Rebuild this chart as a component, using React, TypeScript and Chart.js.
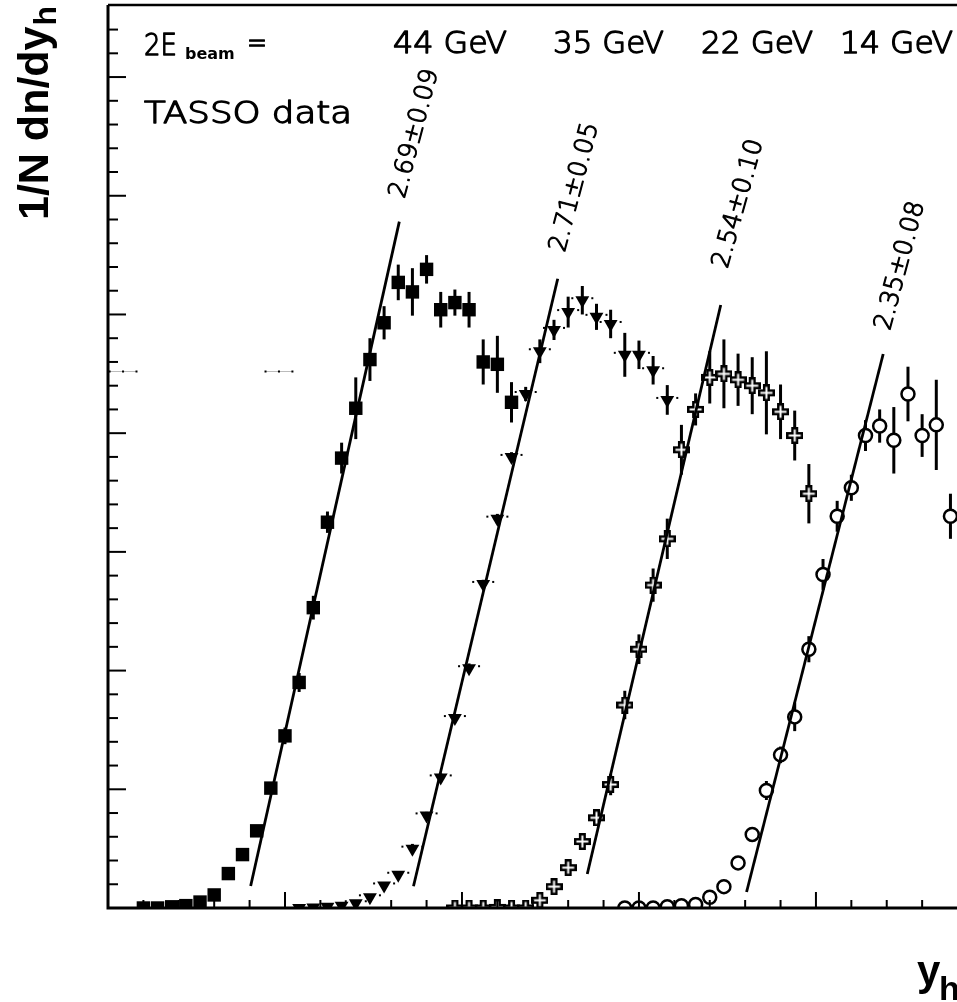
import React, { useEffect, useRef } from "react";
import { Chart, registerables } from "chart.js";

Chart.register(...registerables);

// ---------- data (x: rapidity-like axis units, y: 1/N dn/dy_h units) ----------
const x44 = [0.20, 0.28, 0.36, 0.44, 0.52, 0.60, 0.68, 0.76, 0.84, 0.92, 1.00, 1.08, 1.16, 1.24, 1.32, 1.40, 1.48, 1.56, 1.64, 1.72, 1.80, 1.88, 1.96, 2.04, 2.12, 2.20, 2.28];
const y44 = [0.00, 0.00, 0.01, 0.02, 0.05, 0.11, 0.29, 0.45, 0.65, 1.01, 1.45, 1.90, 2.53, 3.25, 3.79, 4.21, 4.62, 4.93, 5.27, 5.19, 5.38, 5.04, 5.10, 5.04, 4.60, 4.58, 4.26];
const e44 = [0.01, 0.01, 0.01, 0.01, 0.01, 0.02, 0.02, 0.03, 0.03, 0.05, 0.07, 0.08, 0.10, 0.09, 0.13, 0.26, 0.18, 0.14, 0.15, 0.20, 0.12, 0.15, 0.11, 0.15, 0.19, 0.24, 0.17];

const x35 = [1.08, 1.16, 1.24, 1.32, 1.40, 1.48, 1.56, 1.64, 1.72, 1.80, 1.88, 1.96, 2.04, 2.12, 2.20, 2.28, 2.36, 2.44, 2.52, 2.60, 2.68, 2.76, 2.84, 2.92, 3.00, 3.08, 3.16];
const y35 = [0.00, 0.004, 0.01, 0.02, 0.04, 0.09, 0.19, 0.28, 0.50, 0.78, 1.10, 1.60, 2.02, 2.73, 3.28, 3.80, 4.33, 4.69, 4.87, 5.02, 5.12, 4.98, 4.92, 4.66, 4.66, 4.53, 4.28];
const e35 = [0.01, 0.01, 0.01, 0.01, 0.01, 0.01, 0.02, 0.03, 0.04, 0.03, 0.035, 0.035, 0.04, 0.035, 0.04, 0.04, 0.06, 0.10, 0.085, 0.13, 0.12, 0.11, 0.12, 0.185, 0.12, 0.12, 0.125];

const x22 = [1.96, 2.04, 2.12, 2.20, 2.28, 2.36, 2.44, 2.52, 2.60, 2.68, 2.76, 2.84, 2.92, 3.00, 3.08, 3.16, 3.24, 3.32, 3.40, 3.48, 3.56, 3.64, 3.72, 3.80, 3.88, 3.96];
const y22 = [0.00, 0.00, 0.00, 0.005, 0.00, 0.00, 0.065, 0.18, 0.34, 0.56, 0.76, 1.04, 1.71, 2.18, 2.72, 3.11, 3.86, 4.20, 4.47, 4.50, 4.45, 4.40, 4.34, 4.18, 3.98, 3.49];
const e22 = [0.01, 0.01, 0.01, 0.01, 0.01, 0.01, 0.025, 0.03, 0.04, 0.045, 0.065, 0.09, 0.12, 0.125, 0.14, 0.17, 0.21, 0.135, 0.22, 0.29, 0.22, 0.24, 0.35, 0.23, 0.21, 0.25];

const x14 = [2.92, 3.00, 3.08, 3.16, 3.24, 3.32, 3.40, 3.48, 3.56, 3.64, 3.72, 3.80, 3.88, 3.96, 4.04, 4.12, 4.20, 4.28, 4.36, 4.44, 4.52, 4.60, 4.68, 4.76];
const y14 = [0.00, 0.00, 0.00, 0.01, 0.02, 0.03, 0.09, 0.18, 0.38, 0.62, 0.99, 1.29, 1.61, 2.18, 2.81, 3.30, 3.54, 3.98, 4.06, 3.94, 4.33, 3.98, 4.07, 3.30];
const e14 = [0.01, 0.01, 0.01, 0.01, 0.01, 0.01, 0.02, 0.03, 0.03, 0.035, 0.08, 0.07, 0.12, 0.11, 0.13, 0.13, 0.11, 0.13, 0.14, 0.28, 0.23, 0.18, 0.38, 0.19];

// straight-line fits of the rising edges: [start, end]
const fit44X = [0.806, 1.646];
const fit44Y = [0.185, 5.782];
const fit35X = [1.726, 2.541];
const fit35Y = [0.183, 5.301];
const fit22X = [2.708, 3.462];
const fit22Y = [0.286, 5.080];
const fit14X = [3.608, 4.380];
const fit14Y = [0.135, 4.667];

// stray points (with horizontal errors) at the left
const strayX = [0.085, 0.966];
const strayY = [4.524, 4.524];
const strayXErr = [0.076, 0.076];

const energyLabels = ["44 GeV", "35 GeV", "22 GeV", "14 GeV"];
const slopeLabels = ["2.69\u00b10.09", "2.71\u00b10.05", "2.54\u00b10.10", "2.35\u00b10.08"];

const xMajorTicks = [0, 1, 2, 3, 4];
const xMinorTicks = [0.2, 0.4, 0.6, 0.8, 1.2, 1.4, 1.6, 1.8, 2.2, 2.4, 2.6, 2.8, 3.2, 3.4, 3.6, 3.8, 4.2, 4.4, 4.6];
const yMajorTicks = [1, 2, 3, 4, 5, 6, 7];
const yMinorTicks = [0.2, 0.4, 0.6, 0.8, 1.2, 1.4, 1.6, 1.8, 2.2, 2.4, 2.6, 2.8, 3.2, 3.4, 3.6, 3.8, 4.2, 4.4, 4.6, 4.8, 5.2, 5.4, 5.6, 5.8, 6.2, 6.4, 6.6, 6.8, 7.2, 7.4];

const X_MAX = 4.797;
const Y_MAX = 7.607;

const pts = (xs: number[], ys: number[]) => xs.map((x, i) => ({ x, y: ys[i] }));

function makeCross(): HTMLCanvasElement {
  const c = document.createElement("canvas");
  c.width = 17;
  c.height = 17;
  const g = c.getContext("2d")!;
  g.fillStyle = "#000";
  g.fillRect(5, 0, 7, 17);
  g.fillRect(0, 5, 17, 7);
  g.fillStyle = "#fff";
  g.fillRect(7.5, 2.5, 2, 12);
  g.fillRect(2.5, 7.5, 12, 2);
  return c;
}

const TXT = '"DejaVu Sans", "Liberation Sans", sans-serif';
const BOLD = '"Liberation Sans", Arial, sans-serif';

const seriesErr = [e44, e35, e22, e14];

function thinText(ctx: CanvasRenderingContext2D, t: string, x: number, y: number) {
  ctx.fillText(t, x, y);
  ctx.strokeText(t, x, y);
}

function fillW(ctx: CanvasRenderingContext2D, t: string, x: number, y: number, w: number) {
  const mw = ctx.measureText(t).width;
  ctx.save();
  ctx.translate(x, y);
  ctx.scale(w / mw, 1);
  thinText(ctx, t, 0, 0);
  ctx.restore();
}

const decorPlugin = {
  id: "decor",
  beforeDatasetsDraw(chart: any) {
    const { ctx, chartArea: a, scales } = chart;
    const ys = scales.y;
    const xs = scales.x;
    ctx.save();
    ctx.beginPath();
    ctx.rect(a.left, a.top, a.right - a.left, a.bottom - a.top);
    ctx.clip();
    ctx.strokeStyle = "#000";
    ctx.lineWidth = 3;
    seriesErr.forEach((errs, di) => {
      const meta = chart.getDatasetMeta(di);
      const ds = chart.data.datasets[di].data;
      meta.data.forEach((el: any, i: number) => {
        const v = ds[i].y;
        const e = errs[i];
        const p1 = ys.getPixelForValue(v + e);
        const p2 = ys.getPixelForValue(v - e);
        ctx.beginPath();
        ctx.moveTo(el.x, p1);
        ctx.lineTo(el.x, p2);
        ctx.stroke();
      });
    });
    // stray points
    strayX.forEach((sx, i) => {
      const cx = xs.getPixelForValue(sx);
      const l = xs.getPixelForValue(sx - strayXErr[i]);
      const r = xs.getPixelForValue(sx + strayXErr[i]);
      const cy = Math.round(ys.getPixelForValue(strayY[i])) + 0.5;
      ctx.strokeStyle = "#bbb";
      ctx.lineWidth = 1;
      ctx.beginPath();
      ctx.moveTo(l, cy);
      ctx.lineTo(r, cy);
      ctx.stroke();
      ctx.fillStyle = "#000";
      [l, cx, r].forEach((px) => ctx.fillRect(px - 1, cy - 1, 2, 2));
    });
    ctx.restore();
  },
  afterDatasetsDraw(chart: any) {
    const { ctx } = chart;
    // dotted horizontal bars of the 35 GeV triangles
    const meta = chart.getDatasetMeta(1);
    ctx.save();
    ctx.fillStyle = "#000";
    meta.data.forEach((el: any) => {
      if (el.y > chart.chartArea.bottom - 3) return;
      ctx.fillRect(el.x - 11, el.y - 3, 2, 2);
      ctx.fillRect(el.x + 9, el.y - 3, 2, 2);
    });
    ctx.restore();
  },
  afterDraw(chart: any) {
    const { ctx, chartArea: a, scales } = chart;
    const xs = scales.x;
    const ys = scales.y;
    ctx.save();
    ctx.strokeStyle = "#000";
    // frame
    ctx.lineWidth = 3;
    ctx.beginPath();
    ctx.moveTo(a.left, a.top);
    ctx.lineTo(a.left, a.bottom);
    ctx.lineTo(a.right + 2, a.bottom);
    ctx.stroke();
    ctx.lineWidth = 2.5;
    ctx.beginPath();
    ctx.moveTo(a.left, a.top);
    ctx.lineTo(a.right + 2, a.top);
    ctx.stroke();
    // ticks
    ctx.lineWidth = 2;
    xMajorTicks.forEach((t) => {
      const px = xs.getPixelForValue(t);
      ctx.beginPath();
      ctx.moveTo(px, a.bottom);
      ctx.lineTo(px, a.bottom - 16);
      ctx.stroke();
    });
    xMinorTicks.forEach((t) => {
      const px = xs.getPixelForValue(t);
      ctx.beginPath();
      ctx.moveTo(px, a.bottom);
      ctx.lineTo(px, a.bottom - 8);
      ctx.stroke();
    });
    yMajorTicks.forEach((t) => {
      const py = ys.getPixelForValue(t);
      ctx.beginPath();
      ctx.moveTo(a.left, py);
      ctx.lineTo(a.left + 18, py);
      ctx.stroke();
    });
    yMinorTicks.forEach((t) => {
      const py = ys.getPixelForValue(t);
      ctx.beginPath();
      ctx.moveTo(a.left, py);
      ctx.lineTo(a.left + 10, py);
      ctx.stroke();
    });

    ctx.fillStyle = "#000";
    ctx.strokeStyle = "#000";
    ctx.lineWidth = 1.3;
    ctx.lineJoin = "round";
    ctx.textBaseline = "alphabetic";
    ctx.textAlign = "left";
    // 2E_beam =
    ctx.font = `300 30px ${TXT}`;
    fillW(ctx, "2E", 144, 55, 33);
    ctx.font = `bold 16px ${TXT}`;
    ctx.fillText("beam", 185, 59);
    ctx.font = `300 30px ${TXT}`;
    fillW(ctx, "=", 247, 53, 20);
    fillW(ctx, "TASSO data", 144, 123, 208);

    // energies
    const eX = [393, 553, 701, 840];
    const eW = [114, 111, 112, 113];
    energyLabels.forEach((t, i) => fillW(ctx, t, eX[i], 53, eW[i]));

    // slope labels
    const sPos = [
      [414.8, 133.7, 75.2],
      [575.0, 187.3, 75.3],
      [738.8, 203.7, 74.4],
      [900.6, 265.8, 75.0],
    ];
    ctx.font = `300 25px ${TXT}`;
    ctx.lineWidth = 1.1;
    ctx.textAlign = "center";
    ctx.textBaseline = "middle";
    slopeLabels.forEach((t, i) => {
      const [cx, cy, ang] = sPos[i];
      ctx.save();
      ctx.translate(cx, cy);
      ctx.rotate((-ang * Math.PI) / 180);
      thinText(ctx, t, 0, 0);
      ctx.restore();
    });

    // axis titles
    ctx.textAlign = "left";
    ctx.textBaseline = "alphabetic";
    ctx.save();
    ctx.translate(48, 220);
    ctx.rotate(-Math.PI / 2);
    ctx.font = `bold 43px ${BOLD}`;
    ctx.fillText("1/N dn/dy", 0, 0);
    const wt = ctx.measureText("1/N dn/dy").width;
    ctx.font = `bold 32px ${BOLD}`;
    ctx.fillText("h", wt + 1, 8);
    ctx.restore();

    ctx.font = `bold 42px ${BOLD}`;
    ctx.fillText("y", 917, 985);
    ctx.font = `bold 34px ${BOLD}`;
    ctx.fillText("h", 939, 1000);
    ctx.restore();
  },
};

export default function App() {
  const ref = useRef<HTMLCanvasElement | null>(null);
  useEffect(() => {
    if (!ref.current) return;
    const cross = makeCross();
    const lineDs = (xs: number[], ys: number[]) => ({
      type: "line" as const,
      data: pts(xs, ys),
      showLine: true,
      borderColor: "#000",
      borderWidth: 2.8,
      pointRadius: 0,
      fill: false,
      clip: 0,
      order: 0,
    });
    const chart = new Chart(ref.current, {
      type: "scatter",
      data: {
        datasets: [
          {
            label: energyLabels[0],
            data: pts(x44, y44),
            pointStyle: "rect",
            pointRadius: 9.5,
            pointBackgroundColor: "#000",
            pointBorderColor: "#000",
            pointBorderWidth: 0,
            clip: 0,
            order: 1,
          },
          {
            label: energyLabels[1],
            data: pts(x35, y35),
            pointStyle: "triangle",
            pointRotation: 180,
            pointRadius: 8,
            pointBackgroundColor: "#000",
            pointBorderColor: "#000",
            pointBorderWidth: 0,
            clip: 0,
            order: 1,
          },
          {
            label: energyLabels[2],
            data: pts(x22, y22),
            pointStyle: cross,
            pointRadius: 8,
            clip: 0,
            order: 1,
          },
          {
            label: energyLabels[3],
            data: pts(x14, y14),
            pointStyle: "circle",
            pointRadius: 6.5,
            pointBackgroundColor: "#fff",
            pointBorderColor: "#000",
            pointBorderWidth: 2.5,
            clip: 0,
            order: 1,
          },
          lineDs(fit44X, fit44Y),
          lineDs(fit35X, fit35Y),
          lineDs(fit22X, fit22Y),
          lineDs(fit14X, fit14Y),
        ] as any,
      },
      options: {
        responsive: false,
        animation: false,
        devicePixelRatio: 1,
        events: [],
        layout: { autoPadding: false, padding: { left: 108, top: 5, right: 0, bottom: 94 } },
        scales: {
          x: { type: "linear", min: 0, max: X_MAX, display: false },
          y: { type: "linear", min: 0, max: Y_MAX, display: false },
        },
        plugins: { legend: { display: false }, tooltip: { enabled: false } },
      },
      plugins: [decorPlugin],
    });
    return () => chart.destroy();
  }, []);
  return (
    <div style={{ position: "absolute", left: 0, top: 0, width: 957, height: 1002, background: "#fff", overflow: "hidden" }}>
      <canvas ref={ref} width={957} height={1002} style={{ display: "block" }} />
    </div>
  );
}
